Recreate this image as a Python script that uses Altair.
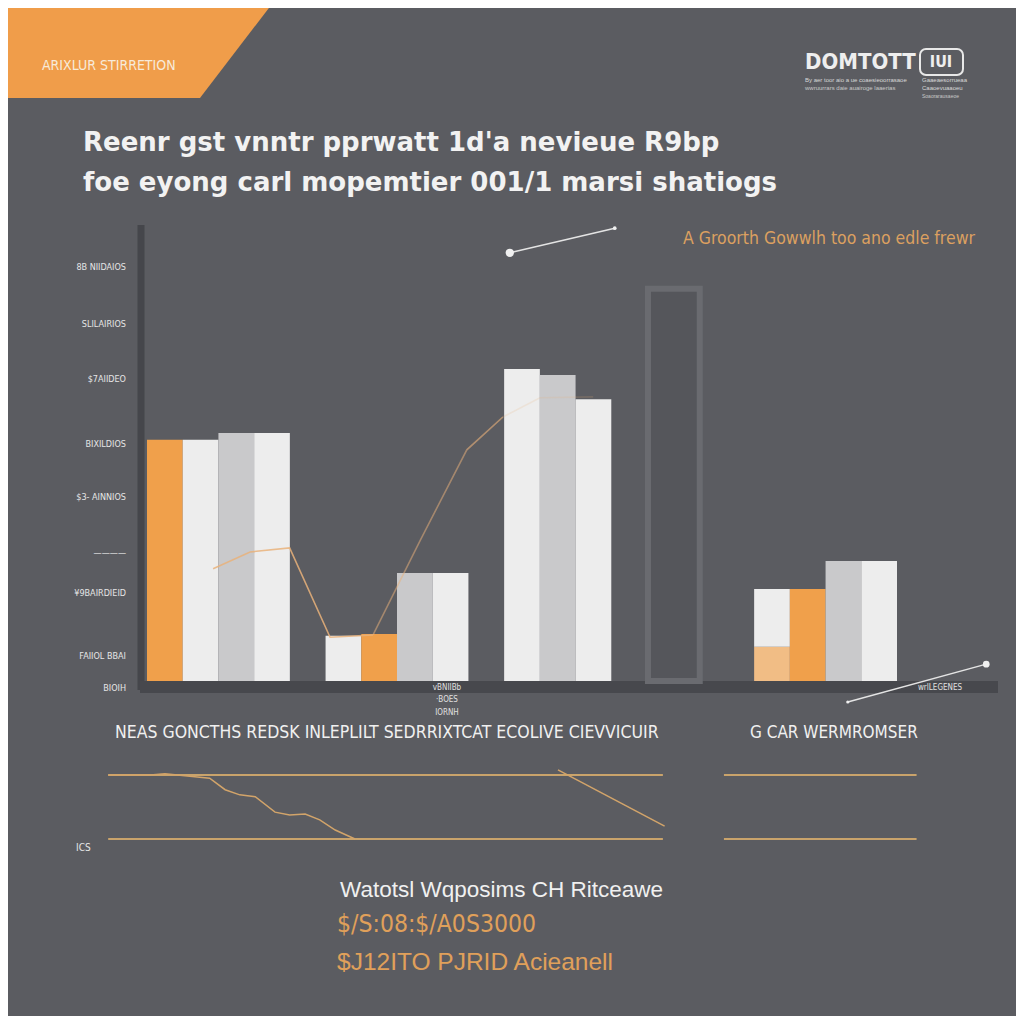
import altair as alt
import pandas as pd

# ---------------- data ----------------
slots = ["G1a", "G1b", "G1c", "G1d", "s1",
         "G2a", "G2b", "G2c", "G2d", "s2",
         "G3a", "G3b", "G3c", "s3",
         "G4a", "s4", "s5",
         "G5a", "G5b", "G5c", "G5d"]

bar_slot = ["G1a", "G1b", "G1c", "G1d",
            "G2a", "G2b", "G2c", "G2d",
            "G3a", "G3b", "G3c",
            "G4a",
            "G5a", "G5a", "G5b", "G5c", "G5d"]
bar_kind = ["accent", "light", "mid", "light",
            "light", "accent", "mid", "light",
            "light", "mid", "light",
            "tower",
            "soft", "light", "accent", "mid", "light"]
bar_low = [0, 0, 0, 0,
           0, 0, 0, 0,
           0, 0, 0,
           0,
           0, 7.5, 0, 0, 0]
bar_high = [52.9, 52.9, 54.4, 54.4,
            9.9, 10.3, 23.7, 23.7,
            68.4, 67.1, 61.8,
            86.0,
            7.5, 20.2, 20.2, 26.3, 26.3]

kinds = ["accent", "light", "mid", "soft", "tower"]
kind_colors = ["#f0a04b", "#ededed", "#c9c9cb", "#f1bd85", "#56575c"]

# y-axis tick labels
ytick_vals = [90.8, 78.3, 66.2, 52.0, 40.4, 28.1, 19.3, 5.5, -1.5]
ytick_text = ["8B NIIDAIOS", "SLILAIRIOS", "$7AIIDEO", "BIXILDIOS", "$3- AINNIOS",
              "————", "¥9BAIRDIEID", "FAIIOL BBAI", "BIOIH"]

# growth trend line (x = % of axis width, y = value), split in segments
trend_seg = ["a", "a", "a", "a", "a", "b", "b", "b", "b", "c", "c", "c", "c"]
trend_x = [8.5, 12.8, 17.4, 22.1, 27.1, 27.1, 32.6, 38.0, 42.2, 38.0, 42.2, 46.5, 52.7]
trend_y = [24.6, 28.3, 29.2, 9.6, 10.1, 10.1, 30.9, 50.7, 57.9, 50.7, 57.9, 62.1, 62.3]
seg_names = ["a", "b", "c"]
seg_opacity = [0.85, 0.18, 0.55]

# pointer lines
ptr_id = ["top", "top", "bot", "bot"]
ptr_x = [43.0, 55.2, 82.3, 98.4]
ptr_y = [93.9, 99.3, -4.6, 3.7]
ptr_size = [70, 14, 10, 45]

# lower panel (x = % of axis width, y = 0..1 band)
hl_x = [-3.7, -3.7, 67.9, 67.9]
hl_x2 = [60.8, 60.8, 90.3, 90.3]
hl_y = [1, 0, 1, 0]
low_x = [-3.7, 1.2, 2.9, 8.1, 9.9, 11.6, 13.4, 15.7, 17.4, 19.2, 20.9, 22.7, 25.0]
low_y = [1.0, 1.0, 1.02, 0.95, 0.77, 0.69, 0.66, 0.42, 0.375, 0.39, 0.30, 0.14, 0.0]
diag_x = [48.6, 61.0]
diag_y = [1.08, 0.2]

# ---------------- styles ----------------
BG = "#5b5c61"
SANS = "Liberation Sans, Arial, sans-serif"
WIDE = "DejaVu Sans, Verdana, sans-serif"
NARROW = "Liberation Sans Narrow, DejaVu Sans Condensed, Liberation Sans, sans-serif"
ORANGE = "#f09d4a"
TAN = "#c9a36b"

W, H = 860, 456

xband = alt.Scale(domain=slots, paddingInner=0, paddingOuter=0, range=[7, 757])
yscale = alt.Scale(domain=[0, 100], nice=False, zero=False)
pct = alt.Scale(domain=[0, 100], nice=False, zero=False)
lowy = alt.Scale(domain=[0, 1], range=[614, 550], nice=False, zero=False)

bars_df = pd.DataFrame({"slot": bar_slot, "kind": bar_kind, "low": bar_low, "high": bar_high})


def txt(s, x, y, size, color, align="left", weight="normal", font=SANS):
    return alt.Chart(pd.DataFrame({"t": [s]})).mark_text(
        align=align, baseline="middle", fontSize=size, color=color,
        fontWeight=weight, font=font
    ).encode(x=alt.value(x), y=alt.value(y), text="t:N")


layers = []

# orange banner (custom trapezoid symbol)
banner = alt.Chart(pd.DataFrame({"t": ["banner"]})).mark_point(
    shape="M-1,-0.356 L1,-0.356 L0.4545,0.356 L-1,0.356 Z",
    size=275 * 275, filled=True, color=ORANGE, opacity=1, strokeWidth=0
).encode(x=alt.value(-2.5), y=alt.value(-176))
layers.append(banner)
layers.append(txt("ARIXLUR  STIRRETION", -98, -159, 14, "#f7ead9", font=NARROW))

# titles
layers.append(txt("Reenr gst vnntr pprwatt 1d'a nevieue R9bp", -57, -82, 26, "#f2f2f2", weight="bold", font=WIDE))
layers.append(txt("foe eyong carl mopemtier 001/1 marsi shatiogs", -57, -42, 26, "#f2f2f2", weight="bold", font=WIDE))
layers.append(txt("A Groorth Gowwlh too  ano  edle frewr", 835, 14, 17.5, "#dca060", align="right", font=NARROW))

# logo top right
layers.append(txt("DOMTOTT", 665, -163, 22, "#eeeeee", weight="bold", font=NARROW))
logo_box = alt.Chart(pd.DataFrame({"t": ["box"]})).mark_rect(
    filled=False, stroke="#e8e8e8", strokeWidth=2, cornerRadius=6
).encode(x=alt.value(780), x2=alt.value(823), y=alt.value(-176), y2=alt.value(-150))
layers.append(logo_box)
layers.append(txt("IUI", 801, -163, 16, "#eeeeee", align="center", weight="bold", font=NARROW))
layers.append(txt("By aer toor aio a ue coaesieoorrasaoe", 665, -145, 6, "#d8d8d8"))
layers.append(txt("wwruurrars daie auairoge laaerias", 665, -137, 6, "#c8c8c8"))
layers.append(txt("Gaaeaesorrueaa", 782, -145, 6, "#d8d8d8"))
layers.append(txt("Caaoevuaaoeu", 782, -137, 6, "#d8d8d8"))
layers.append(txt("Soaorarausaeoe", 782, -129, 5, "#c8c8c8"))

# axis lines
layers.append(alt.Chart(pd.DataFrame({"t": [0]})).mark_rule(color="#45464b", strokeWidth=7).encode(
    x=alt.value(1), y=alt.value(0), y2=alt.value(465)))
layers.append(alt.Chart(pd.DataFrame({"t": [0]})).mark_rule(color="#47484d", strokeWidth=12).encode(
    x=alt.value(0), x2=alt.value(858), y=alt.value(462)))

# bars
bars = alt.Chart(bars_df).transform_filter("datum.kind != 'tower'").mark_bar().encode(
    x=alt.X("slot:N", scale=xband, axis=None),
    y=alt.Y("high:Q", scale=yscale, axis=None),
    y2="low:Q",
    color=alt.Color("kind:N", scale=alt.Scale(domain=kinds, range=kind_colors), legend=None),
)
tower = alt.Chart(bars_df).transform_filter("datum.kind == 'tower'").mark_bar(
    stroke="#6a6b70", strokeWidth=6, fill="#55565b", width={"band": 1.45}, xOffset=9
).encode(
    x=alt.X("slot:N", scale=xband, axis=None),
    y=alt.Y("high:Q", scale=yscale, axis=None),
    y2="low:Q",
)
layers += [bars, tower]

# growth trend line
trend = alt.Chart(pd.DataFrame({"seg": trend_seg, "x": trend_x, "y": trend_y})).mark_line(
    color="#e9b27a", strokeWidth=1.6
).encode(
    x=alt.X("x:Q", scale=pct, axis=None),
    y=alt.Y("y:Q", scale=yscale, axis=None),
    detail="seg:N",
    opacity=alt.Opacity("seg:N", scale=alt.Scale(domain=seg_names, range=seg_opacity), legend=None),
)
layers.append(trend)

# pointer lines with dots
ptr_df = pd.DataFrame({"id": ptr_id, "x": ptr_x, "y": ptr_y, "s": ptr_size})
ptr_line = alt.Chart(ptr_df).mark_line(color="#e4e4e4", strokeWidth=1.5).encode(
    x=alt.X("x:Q", scale=pct, axis=None), y=alt.Y("y:Q", scale=yscale, axis=None), detail="id:N")
ptr_dot = alt.Chart(ptr_df).mark_circle(color="#f0f0f0", opacity=1).encode(
    x=alt.X("x:Q", scale=pct, axis=None), y=alt.Y("y:Q", scale=yscale, axis=None),
    size=alt.Size("s:Q", scale=None, legend=None))
layers += [ptr_line, ptr_dot]

# y tick labels
ylab = alt.Chart(pd.DataFrame({"v": ytick_vals, "t": ytick_text})).mark_text(
    align="right", baseline="middle", fontSize=9, color="#e6e6e6", font=NARROW
).encode(x=alt.value(-14), y=alt.Y("v:Q", scale=yscale, axis=None), text="t:N")
layers.append(ylab)

# small labels under the axis
layers.append(txt("vBNIIBb", 307, 463, 8, "#e0e0e0", align="center", font=NARROW))
layers.append(txt("·BOES", 307, 475, 8, "#e0e0e0", align="center", font=NARROW))
layers.append(txt("IORNH", 307, 488, 8, "#e0e0e0", align="center", font=NARROW))
layers.append(txt("wrlLEGENES", 800, 463, 8, "#e0e0e0", align="center", font=NARROW))

# section labels
layers.append(txt("NEAS GONCTHS REDSK INLEPLILT SEDRRIXTCAT ECOLIVE CIEVVICUIR", -25, 508, 17.5, "#f0f0f0", font=NARROW))
layers.append(txt("G CAR  WERMROMSER", 610, 508, 17, "#f0f0f0", font=NARROW))

# lower panel lines
hl = alt.Chart(pd.DataFrame({"x": hl_x, "x2": hl_x2, "y": hl_y})).mark_rule(color=TAN, strokeWidth=2).encode(
    x=alt.X("x:Q", scale=pct, axis=None), x2="x2:Q", y=alt.Y("y:Q", scale=lowy, axis=None))
low_line = alt.Chart(pd.DataFrame({"x": low_x, "y": low_y})).mark_line(color="#d2a46a", strokeWidth=1.5).encode(
    x=alt.X("x:Q", scale=pct, axis=None), y=alt.Y("y:Q", scale=lowy, axis=None))
diag = alt.Chart(pd.DataFrame({"x": diag_x, "y": diag_y})).mark_line(color="#d2a46a", strokeWidth=1.5).encode(
    x=alt.X("x:Q", scale=pct, axis=None), y=alt.Y("y:Q", scale=lowy, axis=None))
layers += [hl, low_line, diag]
layers.append(txt("ICS", -64, 623, 10, "#e6e6e6", font=NARROW))

# bottom texts
layers.append(txt("Watotsl  Wqposims CH Ritceawe", 200, 665, 22.5, "#f0f0f0", font=SANS))
layers.append(txt("$/S:08:$/A0S3000", 197, 700, 24.5, "#e0a05a", font=NARROW))
layers.append(txt("$J12ITO  PJRID Acieanell", 197, 738, 24.5, "#e0a05a", font=SANS))

chart = alt.layer(*layers).resolve_scale(x="independent", y="independent").properties(
    width=W, height=H,
    padding={"left": 132, "top": 217, "right": 16, "bottom": 335},
    autosize=alt.AutoSizeParams(type="none"),
    background=BG,
).configure_view(strokeWidth=0)

chart.save("out.html", embed_options={"renderer": "svg", "actions": False})
